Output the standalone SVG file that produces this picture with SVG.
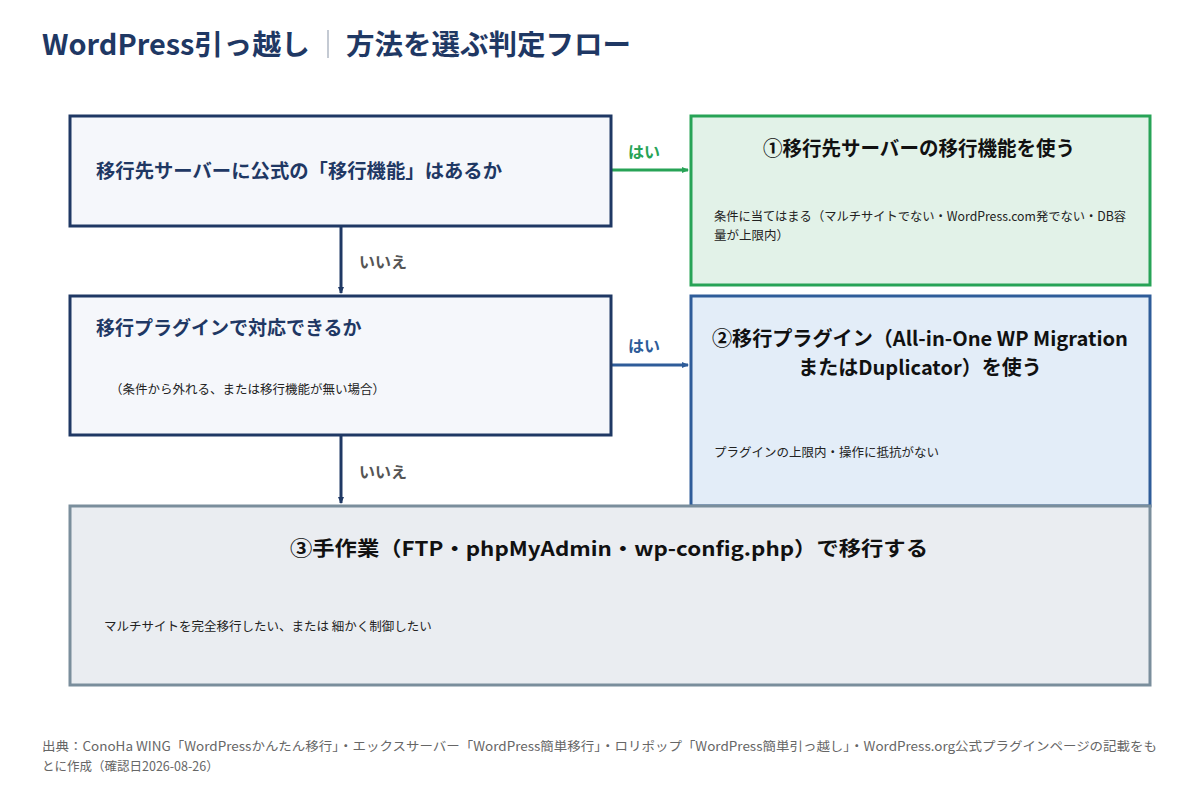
<svg xmlns="http://www.w3.org/2000/svg" width="1200" height="800" viewBox="0 0 1200 800">
<style>
text{font-family:"Noto Sans CJK JP","Noto Sans",sans-serif}
.t{font-size:28px;font-weight:bold;fill:#1f3864}
.q{font-size:19px;font-weight:bold;fill:#1f3864}
.h{font-size:20px;font-weight:bold;fill:#111}
.s{font-size:12.5px;fill:#222}
.l{font-size:16px;font-weight:bold}
.f{font-size:12.5px;fill:#666}
</style>
<defs>
<marker id="an" markerWidth="8" markerHeight="8" refX="6" refY="4" orient="auto" markerUnits="userSpaceOnUse"><path d="M0,1 L7,4 L0,7z" fill="#1f3864"/></marker>
<marker id="ag" markerWidth="8" markerHeight="8" refX="6" refY="4" orient="auto" markerUnits="userSpaceOnUse"><path d="M0,1 L7,4 L0,7z" fill="#27a356"/></marker>
<marker id="ab" markerWidth="8" markerHeight="8" refX="6" refY="4" orient="auto" markerUnits="userSpaceOnUse"><path d="M0,1 L7,4 L0,7z" fill="#2e5c99"/></marker>
</defs>
<rect width="1200" height="800" fill="#fff"/>
<text x="42" y="55" class="t" textLength="268" lengthAdjust="spacingAndGlyphs">WordPress引っ越し</text>
<line x1="328" y1="30" x2="328" y2="58" stroke="#b0b8c4" stroke-width="1.5"/>
<text x="346" y="55" class="t" textLength="285" lengthAdjust="spacingAndGlyphs">方法を選ぶ判定フロー</text>
<g id="connectors" fill="none" stroke-width="3">
<line x1="612" y1="170" x2="688" y2="170" stroke="#27a356" marker-end="url(#ag)"/>
<line x1="341" y1="227" x2="341" y2="293" stroke="#1f3864" marker-end="url(#an)"/>
<line x1="612" y1="365" x2="688" y2="365" stroke="#2e5c99" marker-end="url(#ab)"/>
<line x1="341" y1="436" x2="341" y2="503" stroke="#1f3864" marker-end="url(#an)"/>
<text x="628" y="158" class="l" fill="#27a356" stroke="none">はい</text>
<text x="628" y="352" class="l" fill="#2e5c99" stroke="none">はい</text>
<text x="359" y="268" class="l" fill="#555" stroke="none">いいえ</text>
<text x="359" y="478" class="l" fill="#555" stroke="none">いいえ</text>
</g>
<g id="q1"><rect x="70" y="116" width="541" height="110" fill="#f5f7fb" stroke="#1f3864" stroke-width="3"/>
<text x="96" y="178" class="q" textLength="406" lengthAdjust="spacingAndGlyphs">移行先サーバーに公式の「移行機能」はあるか</text></g>
<g id="q2"><rect x="70" y="296" width="541" height="139" fill="#f5f7fb" stroke="#1f3864" stroke-width="3"/>
<text x="96" y="335" class="q">移行プラグインで対応できるか</text>
<text x="110" y="394" class="s">（条件から外れる、または移行機能が無い場合）</text></g>
<g id="r1"><rect x="691" y="116" width="459" height="169" fill="#e2f2e8" stroke="#27a356" stroke-width="3"/>
<text x="763" y="156" class="h" textLength="312" lengthAdjust="spacingAndGlyphs">①移行先サーバーの移行機能を使う</text>
<text x="714" y="221" class="s" textLength="412" lengthAdjust="spacingAndGlyphs">条件に当てはまる（マルチサイトでない・WordPress.com発でない・DB容</text>
<text x="714" y="240" class="s">量が上限内）</text></g>
<g id="r2"><rect x="691" y="296" width="459" height="210" fill="#e3edf8" stroke="#2e5c99" stroke-width="3"/>
<text x="712" y="346" class="h" textLength="416" lengthAdjust="spacingAndGlyphs">②移行プラグイン（All-in-One  WP  Migration</text>
<text x="920" y="375" class="h" text-anchor="middle">またはDuplicator）を使う</text>
<text x="714" y="457" class="s">プラグインの上限内・操作に抵抗がない</text></g>
<g id="r3"><rect x="70" y="506" width="1080" height="179" fill="#eaedf1" stroke="#7a8e9c" stroke-width="3"/>
<text x="290" y="556" class="h" textLength="638" lengthAdjust="spacingAndGlyphs">③手作業（FTP・phpMyAdmin・wp-config.php）で移行する</text>
<text x="104" y="631" class="s">マルチサイトを完全移行したい、または 細かく制御したい</text></g>
<text x="42" y="751" class="f" textLength="1115" lengthAdjust="spacingAndGlyphs">出典：ConoHa WING「WordPressかんたん移行」・エックスサーバー「WordPress簡単移行」・ロリポップ「WordPress簡単引っ越し」・WordPress.org公式プラグインページの記載をも</text>
<text x="42" y="771" class="f">とに作成（確認日2026-08-26）</text>
</svg>
